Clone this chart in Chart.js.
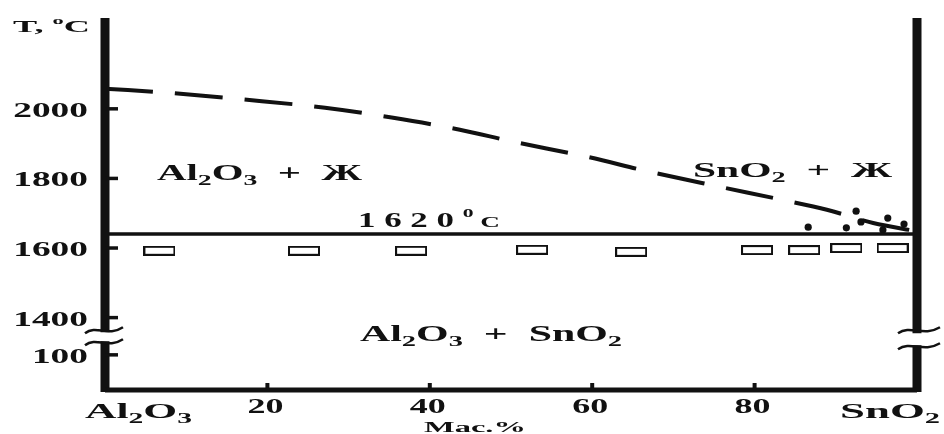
<!DOCTYPE html>
<html>
<head>
<meta charset="utf-8">
<script src="https://cdn.jsdelivr.net/npm/chart.js@4.4.1/dist/chart.umd.min.js"></script>
<style>
  body { margin: 0; background: #fff; }
  #wrap { width: 944px; height: 434px; }
</style>
</head>
<body>
<div id="wrap"><canvas id="chart" width="944" height="434"></canvas></div>
<script>
// liquidus (dashed), mass % SnO2 vs T
const composition = [0, 8.4, 17.5, 27.1, 35.3, 43.7, 50.2, 59.4, 67.1, 75.7, 83.5, 88.9, 94.6, 100];
const liquidusT = [2058, 2045, 2026, 2003, 1975, 1940, 1906, 1862, 1819, 1776, 1738, 1710, 1672, 1648];
// eutectic line
const eutecticX = [0, 100];
const eutecticT = [1640, 1640];
// solid samples (open rectangles)
const solidX = [6.7, 24.5, 37.7, 52.6, 64.8, 80.3, 86.1, 91.3, 97.0];
const solidT = [1592, 1592, 1592, 1595, 1589, 1594, 1594, 1600, 1600];
// melted samples (dots)
const meltX = [86.6, 91.3, 92.5, 93.1, 95.8, 96.4, 98.4];
const meltT = [1660, 1658, 1706, 1675, 1652, 1686, 1669];
// axis ticks
const xTicks = [20, 40, 60, 80];
const yTicks = [1293, 1400, 1600, 1800, 2000];
const yTickLabels = ['100', '1400', '1600', '1800', '2000'];

const INK = '#111';
const SERIF = '"Liberation Serif", "DejaVu Serif", serif';

const pts = (xs, ys) => xs.map((x, i) => ({x: x, y: ys[i]}));

// open rectangle marker
const box = document.createElement('canvas');
box.width = 32; box.height = 10;
(function () {
    const c = box.getContext('2d');
    c.fillStyle = '#fff';
    c.fillRect(1, 1, 30, 8);
    c.strokeStyle = INK;
    c.lineWidth = 2;
    c.strokeRect(1, 1, 30, 8);
})();

// parts: [text, kind] kind 0 normal, 1 sub, 2 sup, 3 small
function drawRich(ctx, parts, x, y, size, width, align) {
    const spec = k => k === 1 ? [0.68, 0.22] : k === 2 ? [0.62, -0.5] : k === 3 ? [0.78, 0] : [1, 0];
    ctx.save();
    let total = 0;
    parts.forEach(p => {
        ctx.font = 'bold ' + (size * spec(p[1])[0]) + 'px ' + SERIF;
        total += ctx.measureText(p[0]).width;
    });
    const sx = width / total;
    let x0 = x;
    if (align === 'right') x0 = x - width;
    if (align === 'center') x0 = x - width / 2;
    ctx.translate(x0, y);
    ctx.scale(sx, 1);
    ctx.fillStyle = INK;
    ctx.textBaseline = 'alphabetic';
    ctx.textAlign = 'left';
    let cx = 0;
    parts.forEach(p => {
        const s = spec(p[1]);
        ctx.font = 'bold ' + (size * s[0]) + 'px ' + SERIF;
        ctx.fillText(p[0], cx, size * s[1]);
        cx += ctx.measureText(p[0]).width;
    });
    ctx.restore();
}

function tilde(ctx, x0, x1, y) {
    const w = x1 - x0;
    ctx.beginPath();
    ctx.moveTo(x0, y + 3);
    ctx.bezierCurveTo(x0 + w * 0.3, y - 6, x0 + w * 0.6, y + 7, x1, y - 3);
    ctx.stroke();
}

const framePlugin = {
    id: 'frame',
    afterDatasetsDraw(chart) {
        const ctx = chart.ctx;
        const xs = chart.scales.x, ys = chart.scales.y;
        const L = xs.getPixelForValue(0), R = xs.getPixelForValue(100);
        const T = chart.chartArea.top, B = ys.getPixelForValue(ys.min);
        const brk = (ys.getPixelForValue(yTicks[0]) + ys.getPixelForValue(yTicks[1])) / 2;
        ctx.save();
        ctx.strokeStyle = INK;
        ctx.lineCap = 'butt';
        // left axis with break
        ctx.lineWidth = 9;
        ctx.beginPath();
        ctx.moveTo(L, T); ctx.lineTo(L, brk - 4);
        ctx.moveTo(L, brk + 5); ctx.lineTo(L, B + 2);
        ctx.stroke();
        // right axis with break
        ctx.beginPath();
        ctx.moveTo(R, T); ctx.lineTo(R, brk - 3);
        ctx.moveTo(R, brk + 9); ctx.lineTo(R, B + 2);
        ctx.stroke();
        // bottom axis
        ctx.lineWidth = 5;
        ctx.beginPath();
        ctx.moveTo(L, B); ctx.lineTo(R, B);
        ctx.stroke();
        // y ticks (inward)
        ctx.lineWidth = 3.5;
        yTicks.forEach(v => {
            const py = ys.getPixelForValue(v);
            ctx.beginPath(); ctx.moveTo(L, py); ctx.lineTo(L + 13, py); ctx.stroke();
        });
        // x ticks (inward)
        ctx.lineWidth = 4;
        xTicks.forEach(v => {
            const px = xs.getPixelForValue(v);
            ctx.beginPath(); ctx.moveTo(px, B); ctx.lineTo(px, B - 7); ctx.stroke();
        });
        // break marks
        ctx.lineWidth = 2.5;
        tilde(ctx, L - 20, L + 18, brk - 6);
        tilde(ctx, L - 20, L + 18, brk + 6);
        tilde(ctx, R - 19, R + 23, brk - 6);
        tilde(ctx, R - 19, R + 23, brk + 10);
        ctx.restore();
    },
    afterDraw(chart) {
        const ctx = chart.ctx;
        const xs = chart.scales.x, ys = chart.scales.y;
        // y tick labels
        yTicks.forEach((v, i) => {
            const lbl = yTickLabels[i];
            drawRich(ctx, [[lbl, 0]], 88, ys.getPixelForValue(v) + 8, 22, lbl.length * 18.7, 'right');
        });
        // x tick labels
        xTicks.forEach(v => {
            drawRich(ctx, [[String(v), 0]], xs.getPixelForValue(v) - 2, 413, 20, 36, 'center');
        });
        drawRich(ctx, [['Al', 0], ['2', 1], ['O', 0], ['3', 1]], 85, 418, 21, 107, 'left');
        drawRich(ctx, [['SnO', 0], ['2', 1]], 840, 418, 21, 100, 'left');
        drawRich(ctx, [['Mac.%', 0]], 424, 432, 15, 102, 'left');
        drawRich(ctx, [['T, ', 0], ['o', 2], ['C', 0]], 13, 32, 17, 77, 'left');
        // phase regions
        drawRich(ctx, [['Al', 0], ['2', 1], ['O', 0], ['3', 1], ['  +  Ж', 0]], 157, 180, 23, 205, 'left');
        drawRich(ctx, [['SnO', 0], ['2', 1], ['  +  Ж', 0]], 693, 177, 22, 199, 'left');
        drawRich(ctx, [['1 6 2 0 ', 0], ['0', 2], [' C', 3]], 358, 227, 20, 142, 'left');
        drawRich(ctx, [['Al', 0], ['2', 1], ['O', 0], ['3', 1], ['  +  SnO', 0], ['2', 1]], 360, 341, 23, 262, 'left');
    }
};

new Chart(document.getElementById('chart'), {
    type: 'scatter',
    data: {
        datasets: [
            {
                data: pts(composition, liquidusT),
                showLine: true,
                borderColor: INK,
                borderWidth: 4,
                borderDash: [48, 22],
                cubicInterpolationMode: 'monotone',
                pointRadius: 0
            },
            {
                data: pts(eutecticX, eutecticT),
                showLine: true,
                borderColor: INK,
                borderWidth: 3.5,
                pointRadius: 0
            },
            {
                data: pts(solidX, solidT),
                pointStyle: box,
                pointRadius: 5
            },
            {
                data: pts(meltX, meltT),
                pointStyle: 'circle',
                pointRadius: 3.6,
                backgroundColor: INK,
                borderColor: INK,
                borderWidth: 0
            }
        ]
    },
    options: {
        responsive: false,
        animation: false,
        events: [],
        layout: { padding: { left: 105, right: 27, top: 18, bottom: 44 } },
        plugins: { legend: { display: false }, tooltip: { enabled: false } },
        scales: {
            x: { type: 'linear', min: 0, max: 100, display: false },
            y: { type: 'linear', min: 1192, max: 2261, display: false }
        }
    },
    plugins: [framePlugin]
});
</script>
</body>
</html>
